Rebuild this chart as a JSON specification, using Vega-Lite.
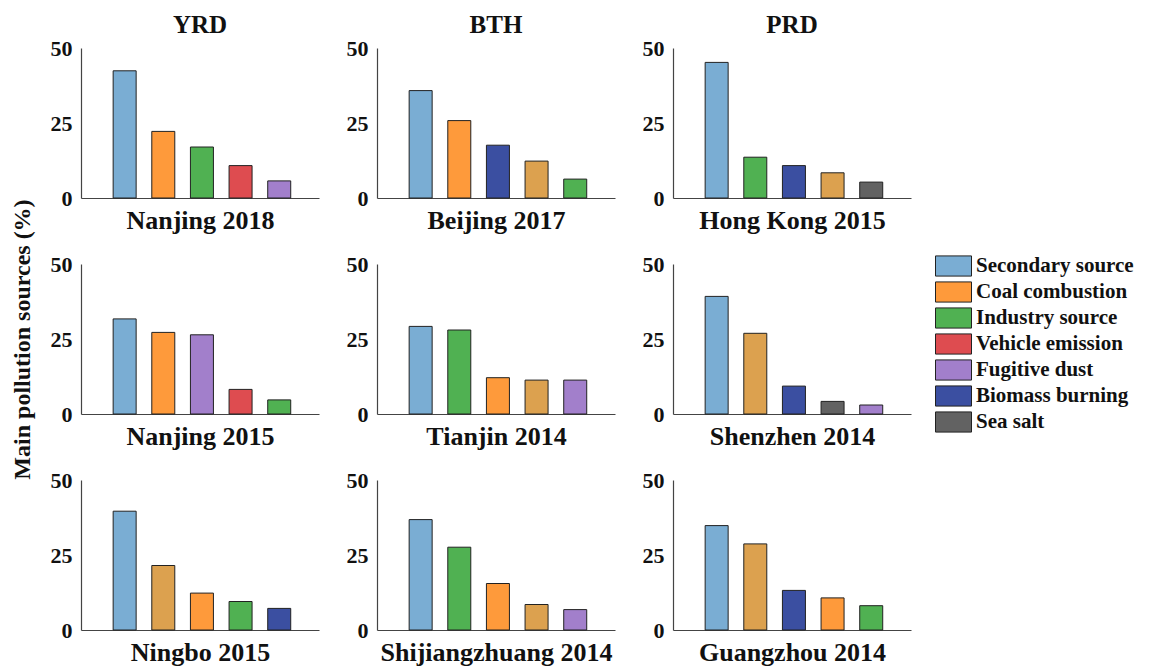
{
  "$schema": "https://vega.github.io/schema/vega-lite/v6.json",
  "padding": {"left": 10, "top": 13, "right": 5, "bottom": 5},
  "background": "white",
  "data": {"values": [
    {"region": "YRD", "city": "Nanjing 2018", "rank": 1, "source": "Secondary source", "value": 42.4},
    {"region": "YRD", "city": "Nanjing 2018", "rank": 2, "source": "Coal combustion", "value": 22.2},
    {"region": "YRD", "city": "Nanjing 2018", "rank": 3, "source": "Industry source", "value": 17.0},
    {"region": "YRD", "city": "Nanjing 2018", "rank": 4, "source": "Vehicle emission", "value": 10.8},
    {"region": "YRD", "city": "Nanjing 2018", "rank": 5, "source": "Fugitive dust", "value": 5.7},
    {"region": "BTH", "city": "Beijing 2017", "rank": 1, "source": "Secondary source", "value": 35.8},
    {"region": "BTH", "city": "Beijing 2017", "rank": 2, "source": "Coal combustion", "value": 25.8},
    {"region": "BTH", "city": "Beijing 2017", "rank": 3, "source": "Biomass burning", "value": 17.6},
    {"region": "BTH", "city": "Beijing 2017", "rank": 4, "source": "Other (unlabelled)", "value": 12.3},
    {"region": "BTH", "city": "Beijing 2017", "rank": 5, "source": "Industry source", "value": 6.3},
    {"region": "PRD", "city": "Hong Kong 2015", "rank": 1, "source": "Secondary source", "value": 45.2},
    {"region": "PRD", "city": "Hong Kong 2015", "rank": 2, "source": "Industry source", "value": 13.6},
    {"region": "PRD", "city": "Hong Kong 2015", "rank": 3, "source": "Biomass burning", "value": 10.8},
    {"region": "PRD", "city": "Hong Kong 2015", "rank": 4, "source": "Other (unlabelled)", "value": 8.4},
    {"region": "PRD", "city": "Hong Kong 2015", "rank": 5, "source": "Sea salt", "value": 5.3},
    {"region": "YRD", "city": "Nanjing 2015", "rank": 1, "source": "Secondary source", "value": 31.7},
    {"region": "YRD", "city": "Nanjing 2015", "rank": 2, "source": "Coal combustion", "value": 27.2},
    {"region": "YRD", "city": "Nanjing 2015", "rank": 3, "source": "Fugitive dust", "value": 26.4},
    {"region": "YRD", "city": "Nanjing 2015", "rank": 4, "source": "Vehicle emission", "value": 8.2},
    {"region": "YRD", "city": "Nanjing 2015", "rank": 5, "source": "Industry source", "value": 4.7},
    {"region": "BTH", "city": "Tianjin 2014", "rank": 1, "source": "Secondary source", "value": 29.2},
    {"region": "BTH", "city": "Tianjin 2014", "rank": 2, "source": "Industry source", "value": 28.0},
    {"region": "BTH", "city": "Tianjin 2014", "rank": 3, "source": "Coal combustion", "value": 12.1},
    {"region": "BTH", "city": "Tianjin 2014", "rank": 4, "source": "Other (unlabelled)", "value": 11.3},
    {"region": "BTH", "city": "Tianjin 2014", "rank": 5, "source": "Fugitive dust", "value": 11.3},
    {"region": "PRD", "city": "Shenzhen 2014", "rank": 1, "source": "Secondary source", "value": 39.2},
    {"region": "PRD", "city": "Shenzhen 2014", "rank": 2, "source": "Other (unlabelled)", "value": 26.9},
    {"region": "PRD", "city": "Shenzhen 2014", "rank": 3, "source": "Biomass burning", "value": 9.3},
    {"region": "PRD", "city": "Shenzhen 2014", "rank": 4, "source": "Sea salt", "value": 4.2},
    {"region": "PRD", "city": "Shenzhen 2014", "rank": 5, "source": "Fugitive dust", "value": 3.0},
    {"region": "YRD", "city": "Ningbo 2015", "rank": 1, "source": "Secondary source", "value": 39.6},
    {"region": "YRD", "city": "Ningbo 2015", "rank": 2, "source": "Other (unlabelled)", "value": 21.5},
    {"region": "YRD", "city": "Ningbo 2015", "rank": 3, "source": "Coal combustion", "value": 12.3},
    {"region": "YRD", "city": "Ningbo 2015", "rank": 4, "source": "Industry source", "value": 9.5},
    {"region": "YRD", "city": "Ningbo 2015", "rank": 5, "source": "Biomass burning", "value": 7.2},
    {"region": "BTH", "city": "Shijiangzhuang 2014", "rank": 1, "source": "Secondary source", "value": 36.8},
    {"region": "BTH", "city": "Shijiangzhuang 2014", "rank": 2, "source": "Industry source", "value": 27.6},
    {"region": "BTH", "city": "Shijiangzhuang 2014", "rank": 3, "source": "Coal combustion", "value": 15.5},
    {"region": "BTH", "city": "Shijiangzhuang 2014", "rank": 4, "source": "Other (unlabelled)", "value": 8.5},
    {"region": "BTH", "city": "Shijiangzhuang 2014", "rank": 5, "source": "Fugitive dust", "value": 6.8},
    {"region": "PRD", "city": "Guangzhou 2014", "rank": 1, "source": "Secondary source", "value": 34.8},
    {"region": "PRD", "city": "Guangzhou 2014", "rank": 2, "source": "Other (unlabelled)", "value": 28.7},
    {"region": "PRD", "city": "Guangzhou 2014", "rank": 3, "source": "Biomass burning", "value": 13.2},
    {"region": "PRD", "city": "Guangzhou 2014", "rank": 4, "source": "Coal combustion", "value": 10.7},
    {"region": "PRD", "city": "Guangzhou 2014", "rank": 5, "source": "Industry source", "value": 8.1}
  ]},
  "columns": 3,
  "bounds": "flush",
  "spacing": {"column": 58, "row": 66},
  "concat": [
    {
      "width": 238, "height": 150,
      "title": "YRD",
      "transform": [{"filter": "datum.city === 'Nanjing 2018'"}],
      "mark": {"type": "bar", "size": 23, "stroke": "#222", "strokeWidth": 1},
      "encoding": {
        "x": {"field": "rank", "type": "quantitative", "scale": {"domain": [0, 5.9]}, "axis": {"title": "Nanjing 2018", "labels": false}},
        "y": {"field": "value", "type": "quantitative", "scale": {"domain": [0, 50]}, "axis": {"values": [0, 25, 50], "title": null}},
        "color": {
          "field": "source", "type": "nominal",
          "scale": {
            "domain": ["Secondary source", "Coal combustion", "Industry source", "Vehicle emission", "Fugitive dust", "Biomass burning", "Sea salt", "Other (unlabelled)"],
            "range": ["#7aadd3", "#fe9a3b", "#50b152", "#de4c50", "#a27fcb", "#3b4fa1", "#626262", "#dca14f"]
          },
          "legend": {
            "title": null,
            "values": ["Secondary source", "Coal combustion", "Industry source", "Vehicle emission", "Fugitive dust", "Biomass burning", "Sea salt"],
            "orient": "none", "legendX": 854, "legendY": 207
          }
        }
      }
    },
    {
      "width": 238, "height": 150,
      "title": "BTH",
      "transform": [{"filter": "datum.city === 'Beijing 2017'"}],
      "mark": {"type": "bar", "size": 23, "stroke": "#222", "strokeWidth": 1},
      "encoding": {
        "x": {"field": "rank", "type": "quantitative", "scale": {"domain": [0, 5.9]}, "axis": {"title": "Beijing 2017", "labels": false}},
        "y": {"field": "value", "type": "quantitative", "scale": {"domain": [0, 50]}, "axis": {"values": [0, 25, 50], "title": null}},
        "color": {"field": "source", "type": "nominal"}
      }
    },
    {
      "width": 238, "height": 150,
      "title": "PRD",
      "transform": [{"filter": "datum.city === 'Hong Kong 2015'"}],
      "mark": {"type": "bar", "size": 23, "stroke": "#222", "strokeWidth": 1},
      "encoding": {
        "x": {"field": "rank", "type": "quantitative", "scale": {"domain": [0, 5.9]}, "axis": {"title": "Hong Kong 2015", "labels": false}},
        "y": {"field": "value", "type": "quantitative", "scale": {"domain": [0, 50]}, "axis": {"values": [0, 25, 50], "title": null}},
        "color": {"field": "source", "type": "nominal"}
      }
    },
    {
      "width": 238, "height": 150,
      "transform": [{"filter": "datum.city === 'Nanjing 2015'"}],
      "mark": {"type": "bar", "size": 23, "stroke": "#222", "strokeWidth": 1},
      "encoding": {
        "x": {"field": "rank", "type": "quantitative", "scale": {"domain": [0, 5.9]}, "axis": {"title": "Nanjing 2015", "labels": false}},
        "y": {"field": "value", "type": "quantitative", "scale": {"domain": [0, 50]}, "axis": {"values": [0, 25, 50], "title": "Main pollution sources (%)", "titleFontSize": 24, "titlePadding": 16}},
        "color": {"field": "source", "type": "nominal"}
      }
    },
    {
      "width": 238, "height": 150,
      "transform": [{"filter": "datum.city === 'Tianjin 2014'"}],
      "mark": {"type": "bar", "size": 23, "stroke": "#222", "strokeWidth": 1},
      "encoding": {
        "x": {"field": "rank", "type": "quantitative", "scale": {"domain": [0, 5.9]}, "axis": {"title": "Tianjin 2014", "labels": false}},
        "y": {"field": "value", "type": "quantitative", "scale": {"domain": [0, 50]}, "axis": {"values": [0, 25, 50], "title": null}},
        "color": {"field": "source", "type": "nominal"}
      }
    },
    {
      "width": 238, "height": 150,
      "transform": [{"filter": "datum.city === 'Shenzhen 2014'"}],
      "mark": {"type": "bar", "size": 23, "stroke": "#222", "strokeWidth": 1},
      "encoding": {
        "x": {"field": "rank", "type": "quantitative", "scale": {"domain": [0, 5.9]}, "axis": {"title": "Shenzhen 2014", "labels": false}},
        "y": {"field": "value", "type": "quantitative", "scale": {"domain": [0, 50]}, "axis": {"values": [0, 25, 50], "title": null}},
        "color": {"field": "source", "type": "nominal"}
      }
    },
    {
      "width": 238, "height": 150,
      "transform": [{"filter": "datum.city === 'Ningbo 2015'"}],
      "mark": {"type": "bar", "size": 23, "stroke": "#222", "strokeWidth": 1},
      "encoding": {
        "x": {"field": "rank", "type": "quantitative", "scale": {"domain": [0, 5.9]}, "axis": {"title": "Ningbo 2015", "labels": false}},
        "y": {"field": "value", "type": "quantitative", "scale": {"domain": [0, 50]}, "axis": {"values": [0, 25, 50], "title": null}},
        "color": {"field": "source", "type": "nominal"}
      }
    },
    {
      "width": 238, "height": 150,
      "transform": [{"filter": "datum.city === 'Shijiangzhuang 2014'"}],
      "mark": {"type": "bar", "size": 23, "stroke": "#222", "strokeWidth": 1},
      "encoding": {
        "x": {"field": "rank", "type": "quantitative", "scale": {"domain": [0, 5.9]}, "axis": {"title": "Shijiangzhuang 2014", "labels": false}},
        "y": {"field": "value", "type": "quantitative", "scale": {"domain": [0, 50]}, "axis": {"values": [0, 25, 50], "title": null}},
        "color": {"field": "source", "type": "nominal"}
      }
    },
    {
      "width": 238, "height": 150,
      "transform": [{"filter": "datum.city === 'Guangzhou 2014'"}],
      "mark": {"type": "bar", "size": 23, "stroke": "#222", "strokeWidth": 1},
      "encoding": {
        "x": {"field": "rank", "type": "quantitative", "scale": {"domain": [0, 5.9]}, "axis": {"title": "Guangzhou 2014", "labels": false}},
        "y": {"field": "value", "type": "quantitative", "scale": {"domain": [0, 50]}, "axis": {"values": [0, 25, 50], "title": null}},
        "color": {"field": "source", "type": "nominal"}
      }
    }
  ],
  "config": {
    "font": "Liberation Serif",
    "view": {"stroke": null},
    "bar": {"opacity": 1},
    "axis": {
      "labelFont": "Liberation Serif", "labelFontWeight": "bold", "labelFontSize": 22, "labelColor": "#111",
      "titleFont": "Liberation Serif", "titleFontWeight": "bold", "titleFontSize": 26, "titleColor": "#111",
      "domainColor": "#444", "domainWidth": 1.2, "ticks": false, "grid": false, "labelPadding": 9
    },
    "axisX": {"titlePadding": 9},
    "title": {"font": "Liberation Serif", "fontSize": 25, "fontWeight": "bold", "color": "#111", "offset": -1},
    "legend": {
      "labelFont": "Liberation Serif", "labelFontWeight": "bold", "labelFontSize": 21, "labelColor": "#111",
      "symbolType": "M-1,-0.56H1V0.56H-1Z", "symbolSize": 1296, "symbolStrokeColor": "#222", "symbolStrokeWidth": 1,
      "symbolOpacity": 1, "symbolFillOpacity": 1, "clipHeight": 22, "rowPadding": 4, "padding": 0, "labelOffset": 4, "labelLimit": 300
    }
  }
}
